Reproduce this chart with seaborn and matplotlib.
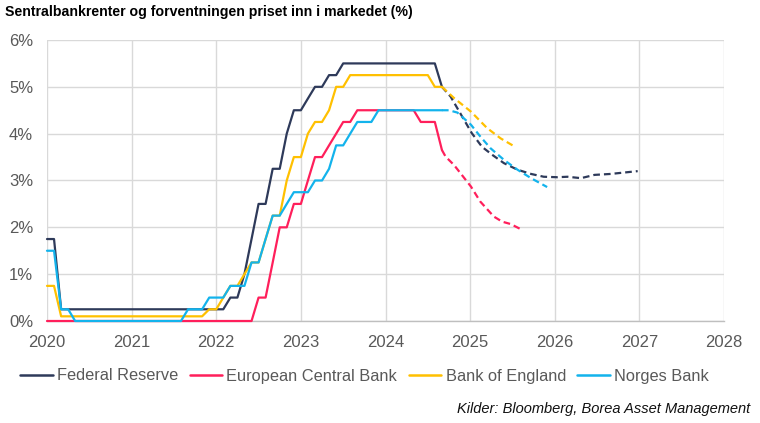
import matplotlib
matplotlib.use("Agg")
import matplotlib.pyplot as plt
import pandas as pd
import seaborn as sns
from matplotlib.lines import Line2D

# ---------------- data (decimal years, % rate) ----------------
banks = ["Federal Reserve", "European Central Bank", "Bank of England", "Norges Bank"]
colors = ["#2E3A5A", "#FF1F5B", "#FFC000", "#13B3EC"]

fed_x = [2020.000, 2020.083, 2020.167, 2022.083, 2022.167, 2022.250, 2022.333, 2022.417,
         2022.500, 2022.583, 2022.667, 2022.750, 2022.833, 2022.917, 2023.000, 2023.083,
         2023.167, 2023.250, 2023.333, 2023.417, 2023.500, 2024.583, 2024.667]
fed_y = [1.75, 1.75, 0.25, 0.25, 0.5, 0.5, 1.0, 1.75, 2.5, 2.5, 3.25, 3.25, 4.0, 4.5, 4.5,
         4.75, 5.0, 5.0, 5.25, 5.25, 5.5, 5.5, 5.0]
fed_fx = [2024.667, 2024.77, 2024.93, 2025.02, 2025.14, 2025.26, 2025.40, 2025.56, 2025.72,
          2025.87, 2026.03, 2026.15, 2026.31, 2026.47, 2026.66, 2026.82, 2026.98]
fed_fy = [5.0, 4.79, 4.29, 4.01, 3.72, 3.55, 3.37, 3.23, 3.14, 3.08, 3.07, 3.08, 3.05, 3.12,
          3.14, 3.17, 3.20]

ecb_x = [2020.000, 2022.417, 2022.500, 2022.583, 2022.667, 2022.750, 2022.833, 2022.917,
         2023.000, 2023.083, 2023.167, 2023.250, 2023.333, 2023.417, 2023.500, 2023.583,
         2023.667, 2024.333, 2024.417, 2024.583, 2024.667]
ecb_y = [0.0, 0.0, 0.5, 0.5, 1.25, 2.0, 2.0, 2.5, 2.5, 3.0, 3.5, 3.5, 3.75, 4.0, 4.25, 4.25,
         4.5, 4.5, 4.25, 4.25, 3.65]
ecb_fx = [2024.667, 2024.71, 2024.81, 2025.01, 2025.12, 2025.28, 2025.38, 2025.48, 2025.62]
ecb_fy = [3.65, 3.51, 3.33, 2.87, 2.55, 2.23, 2.12, 2.07, 1.94]

boe_x = [2020.000, 2020.083, 2020.167, 2021.833, 2021.917, 2022.000, 2022.083, 2022.167,
         2022.250, 2022.333, 2022.417, 2022.500, 2022.583, 2022.667, 2022.750, 2022.833,
         2022.917, 2023.000, 2023.083, 2023.167, 2023.250, 2023.333, 2023.417, 2023.500,
         2023.583, 2024.500, 2024.583, 2024.667]
boe_y = [0.75, 0.75, 0.1, 0.1, 0.25, 0.25, 0.5, 0.75, 0.75, 1.0, 1.25, 1.25, 1.75, 2.25,
         2.25, 3.0, 3.5, 3.5, 4.0, 4.25, 4.25, 4.5, 5.0, 5.0, 5.25, 5.25, 5.0, 5.0]
boe_fx = [2024.667, 2024.81, 2025.01, 2025.20, 2025.36, 2025.54]
boe_fy = [5.0, 4.76, 4.47, 4.12, 3.90, 3.71]

nb_x = [2020.000, 2020.083, 2020.167, 2020.250, 2020.333, 2021.583, 2021.667, 2021.833,
        2021.917, 2022.083, 2022.167, 2022.333, 2022.417, 2022.500, 2022.583, 2022.667,
        2022.750, 2022.833, 2022.917, 2023.083, 2023.167, 2023.250, 2023.333, 2023.417,
        2023.500, 2023.583, 2023.667, 2023.833, 2023.917, 2024.667]
nb_y = [1.5, 1.5, 0.25, 0.25, 0.0, 0.0, 0.25, 0.25, 0.5, 0.5, 0.75, 0.75, 1.25, 1.25, 1.75,
        2.25, 2.25, 2.5, 2.75, 2.75, 3.0, 3.0, 3.25, 3.75, 3.75, 4.0, 4.25, 4.25, 4.5, 4.5]
nb_fx = [2024.667, 2024.75, 2024.85, 2025.01, 2025.12, 2025.24, 2025.40, 2025.56, 2025.72,
         2025.91]
nb_fy = [4.5, 4.5, 4.45, 4.19, 3.94, 3.69, 3.44, 3.23, 3.05, 2.86]

year_ticks = [2020, 2021, 2022, 2023, 2024, 2025, 2026, 2027, 2028]
pct_ticks = [0, 1, 2, 3, 4, 5, 6]

title = "Sentralbankrenter og forventningen priset inn i markedet (%)"
source = "Kilder: Bloomberg, Borea Asset Management"

# ---------------- tidy table ----------------
series = [
    (banks[0], fed_x, fed_y, fed_fx, fed_fy),
    (banks[1], ecb_x, ecb_y, ecb_fx, ecb_fy),
    (banks[2], boe_x, boe_y, boe_fx, boe_fy),
    (banks[3], nb_x, nb_y, nb_fx, nb_fy),
]
rows = []
for bank, ax_, ay_, fx_, fy_ in series:
    rows += [dict(year=x, rate=y, bank=bank, kind="Faktisk") for x, y in zip(ax_, ay_)]
    rows += [dict(year=x, rate=y, bank=bank, kind="Forventning") for x, y in zip(fx_, fy_)]
df = pd.DataFrame(rows)

# ---------------- plot ----------------
sns.set_theme(style="whitegrid")
plt.rcParams["font.family"] = ["Liberation Sans", "DejaVu Sans"]

W, H = 760, 423
fig = plt.figure(figsize=(W / 100, H / 100), dpi=100)
ax = fig.add_axes([47 / W, 1 - 321 / H, (724 - 47) / W, (321 - 40) / H])

for bank, col in zip(banks, colors):
    sub = df[df["bank"] == bank]
    sns.lineplot(data=sub, x="year", y="rate", style="kind",
                 dashes={"Faktisk": "", "Forventning": (3, 1.8)},
                 color=col, linewidth=1.6, estimator=None, legend=False, ax=ax)

for ln in ax.get_lines():
    ln.set_clip_on(False)
    ln.set_zorder(3)

ax.set_xlim(2020, 2028)
ax.set_ylim(0, 6)
ax.set_xticks(year_ticks)
ax.set_xticklabels([str(y) for y in year_ticks])
ax.set_yticks(pct_ticks)
ax.set_yticklabels([f"{p}%" for p in pct_ticks])
ax.set_xlabel("")
ax.set_ylabel("")
ax.set_facecolor("white")
ax.grid(True, color="#D9D9D9", linewidth=1.0)
for s in ["left", "right", "top"]:
    ax.spines[s].set_visible(False)
ax.spines["bottom"].set_color("#BFBFBF")
ax.spines["bottom"].set_linewidth(1.0)
ax.tick_params(axis="both", length=0, labelsize=12, labelcolor="#595959")
ax.tick_params(axis="x", pad=10)
ax.tick_params(axis="y", pad=10)

fig.text(5 / W, 1 - 12 / H, title, fontsize=10.2, fontweight="bold", color="#000000",
         ha="left", va="center")

handles = [Line2D([], [], color=c, linewidth=1.8) for c in colors]
leg = fig.legend(handles, banks, loc="center left", bbox_to_anchor=(20 / W, 1 - 376 / H),
                 ncol=4, frameon=False, fontsize=11.8, handlelength=2.0, handletextpad=0.25,
                 columnspacing=0.7, borderaxespad=0, borderpad=0)
for t in leg.get_texts():
    t.set_color("#595959")

fig.text(750 / W, 1 - 409 / H, source, fontsize=10.5, fontstyle="italic", color="#111111",
         ha="right", va="center")

fig.savefig("out.png", dpi=100, facecolor="white")
